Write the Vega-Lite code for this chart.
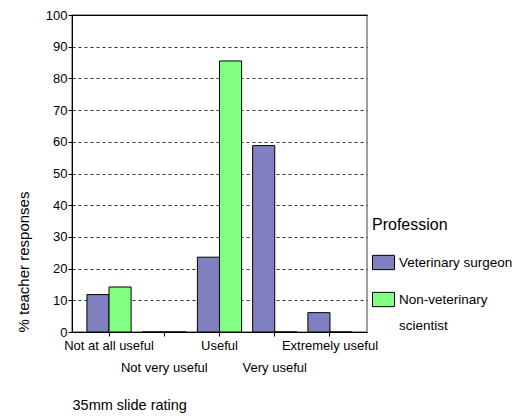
{
  "$schema": "https://vega.github.io/schema/vega-lite/v6.json",
  "autosize": {"type": "none"},
  "width": 295,
  "height": 317,
  "padding": {"left": 72, "top": 15, "right": 157, "bottom": 84},
  "background": "white",
  "config": {
    "font": "Liberation Sans",
    "view": {"stroke": "#808080", "strokeWidth": 1.5},
    "axis": {"labelFont": "Liberation Sans", "titleFont": "Liberation Sans", "labelColor": "#000", "titleColor": "#000", "titleFontWeight": "normal"}
  },
  "data": {
    "values": [
      {"rating": "Not at all useful", "profession": "Veterinary surgeon", "pct": 11.8},
      {"rating": "Not at all useful", "profession": "Non-veterinary scientist", "pct": 14.2},
      {"rating": "Not very useful", "profession": "Veterinary surgeon", "pct": 0},
      {"rating": "Not very useful", "profession": "Non-veterinary scientist", "pct": 0},
      {"rating": "Useful", "profession": "Veterinary surgeon", "pct": 23.6},
      {"rating": "Useful", "profession": "Non-veterinary scientist", "pct": 85.5},
      {"rating": "Very useful", "profession": "Veterinary surgeon", "pct": 58.8},
      {"rating": "Very useful", "profession": "Non-veterinary scientist", "pct": 0},
      {"rating": "Extremely useful", "profession": "Veterinary surgeon", "pct": 6.1},
      {"rating": "Extremely useful", "profession": "Non-veterinary scientist", "pct": 0}
    ]
  },
  "mark": {"type": "bar", "stroke": "#000", "strokeWidth": 1},
  "encoding": {
    "x": {
      "field": "rating", "type": "nominal",
      "sort": ["Not at all useful", "Not very useful", "Useful", "Very useful", "Extremely useful"],
      "scale": {"paddingInner": 0.2, "paddingOuter": 0.27},
      "axis": {
        "title": "35mm slide rating",
        "titleAnchor": "start",
        "titleFontSize": 14.5,
        "titlePadding": 24,
        "labelAngle": 0,
        "labelFontSize": 13,
        "labelPadding": 3,
        "labelLineHeight": 22,
        "labelExpr": "indexof(['Not very useful','Very useful'], datum.value) >= 0 ? ['', datum.label] : datum.label",
        "labelOverlap": false,
        "tickSize": 4,
        "tickColor": "#000",
        "domainColor": "#000",
        "grid": false
      }
    },
    "xOffset": {
      "field": "profession", "type": "nominal",
      "sort": ["Veterinary surgeon", "Non-veterinary scientist"]
    },
    "y": {
      "field": "pct", "type": "quantitative",
      "scale": {"domain": [0, 100], "nice": false},
      "axis": {
        "title": "% teacher responses",
        "titleAnchor": "start",
        "titleFontSize": 15,
        "titlePadding": 14,
        "values": [0, 10, 20, 30, 40, 50, 60, 70, 80, 90, 100],
        "labelFontSize": 13,
        "labelPadding": 1,
        "tickSize": 4,
        "tickColor": "#000",
        "domainColor": "#000",
        "gridColor": {"condition": {"test": "datum.value == 100", "value": "#000"}, "value": "#333"},
        "gridDash": {"condition": {"test": "datum.value == 100", "value": []}, "value": [3, 3]},
        "gridWidth": 1
      }
    },
    "color": {
      "field": "profession", "type": "nominal",
      "sort": ["Veterinary surgeon", "Non-veterinary scientist"],
      "scale": {"domain": ["Veterinary surgeon", "Non-veterinary scientist"], "range": ["#8080C0", "#80FF80"]},
      "legend": {
        "title": "Profession",
        "orient": "none",
        "legendX": 300,
        "legendY": 202,
        "titleFontSize": 16,
        "titleFontWeight": "normal",
        "titleColor": "#000",
        "titlePadding": 18,
        "labelFontSize": 13.5,
        "labelColor": "#000",
        "labelOffset": 4,
        "labelExpr": "datum.label == 'Non-veterinary scientist' ? ['Non-veterinary', 'scientist'] : datum.label",
        "symbolType": "M-1,-0.65H1V0.65H-1Z",
        "symbolSize": 484,
        "symbolStrokeColor": "#000",
        "symbolStrokeWidth": 1,
        "symbolOpacity": 1,
        "rowPadding": 16,
        "encode": {"labels": {"update": {"lineHeight": {"value": 26}}}}
      }
    }
  }
}
